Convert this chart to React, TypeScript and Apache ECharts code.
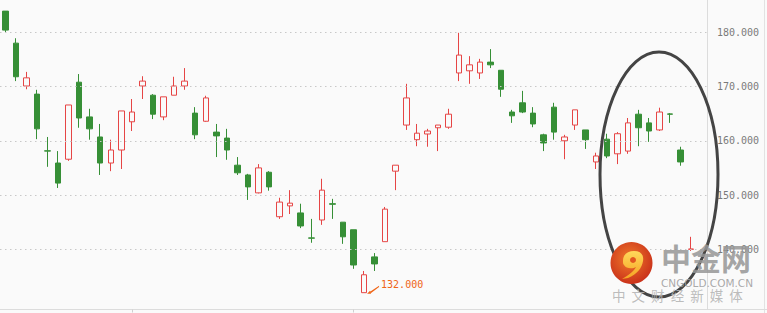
import React, { useEffect, useRef } from "react";
import * as echarts from "echarts";

// ---- data ----
const categories: string[] = Array.from({ length: 67 }, (_, i) => `D${i + 1}`);
const tickIndices: number[] = [12, 33];
const opens: (number | null)[] = [
  183.9, 178.0, 170.1, 168.6, 158.15, 155.9, 156.6, 170.8, 164.4, 160.7,
  155.9, 158.3, 163.5, 170.1, 168.4, 164.4, 168.4, 170.1, 165.1, 163.6,
  161.6, 160.5, 155.5, 153.7, 150.4, 154.2, 146.0, 148.0, 146.7, 142.1,
  145.4, 148.4, 145.0, 143.6, 132.0, 138.6, 141.4, 154.4, 162.9, 160.2,
  161.25, 162.4, 162.5, 172.5, 172.9, 172.5, 174.5, 173.0, 165.3, 167.0,
  165.1, 161.1, 166.2, 160.0, 162.9, 162.0, 156.1, 160.3, 157.6, 158.1,
  164.9, 163.3, 162.0, 164.95, 158.3, 140.0, null,
];
const closes: (number | null)[] = [
  180.4, 171.8, 171.6, 162.2, 158.1, 152.2, 166.6, 164.2, 162.2, 155.9,
  158.3, 165.5, 165.3, 171.0, 164.9, 168.1, 170.1, 171.0, 161.1, 167.9,
  160.9, 158.3, 154.1, 151.5, 155.0, 151.5, 148.7, 148.5, 144.3, 142.05,
  150.9, 148.3, 142.3, 137.1, 135.3, 137.3, 147.4, 155.5, 167.9, 161.4,
  161.8, 162.9, 164.9, 175.8, 174.0, 174.5, 174.0, 169.5, 164.6, 165.3,
  163.1, 159.6, 161.6, 160.7, 165.7, 160.2, 157.2, 157.2, 161.3, 163.3,
  162.4, 161.8, 165.3, 164.9, 156.1, 140.05, null,
];
const lows: (number | null)[] = [
  179.9, 171.0, 169.5, 160.3, 155.2, 151.3, 156.3, 162.4, 160.2, 153.7,
  154.4, 154.8, 161.8, 167.7, 164.0, 163.8, 168.4, 169.4, 160.3, 163.5,
  157.0, 156.5, 153.7, 149.1, 150.3, 150.8, 145.6, 146.5, 143.9, 141.2,
  144.5, 145.6, 141.0, 136.4, 132.0, 136.0, 141.4, 150.9, 162.0, 159.0,
  158.9, 158.1, 162.2, 171.0, 170.5, 171.4, 173.4, 168.1, 163.3, 165.1,
  162.5, 158.1, 160.2, 156.6, 162.0, 158.5, 154.8, 156.8, 155.7, 157.6,
  159.0, 159.8, 161.8, 163.3, 155.4, 139.7, null,
];
const highs: (number | null)[] = [
  183.9, 178.9, 172.7, 169.4, 160.7, 158.1, 166.6, 172.3, 165.9, 163.1,
  160.2, 165.5, 167.7, 171.9, 168.6, 168.1, 171.8, 173.4, 166.2, 168.3,
  163.1, 162.2, 157.0, 153.9, 155.7, 154.4, 149.5, 150.9, 148.4, 145.6,
  153.0, 149.3, 145.0, 143.6, 136.0, 139.3, 147.8, 155.5, 170.5, 163.1,
  162.2, 162.9, 165.9, 179.9, 175.6, 175.1, 176.9, 173.0, 165.7, 169.2,
  166.2, 161.3, 167.0, 161.1, 165.7, 162.0, 157.8, 161.3, 161.6, 164.2,
  165.7, 164.2, 166.1, 165.1, 158.9, 142.3, null,
];
const gridValues: number[] = [140, 150, 160, 170, 180];
const axisMin = 128.9;
const axisMax = 185.95;

// ---- styles ----
const RED = "#e64545";
const GREEN = "#368f36";
const BG = "#fafafa";

const swirlPath =
  "M9,14 C9,7 14,4 20,4 C27,4 30,8 29,14 C28,21 23,27 14,31 L8,32 C15,28 20,24 22,20 C19,22 12,22 10,18 C9,17 9,16 9,14 Z";
let registered = false;
function registerShapes() {
  if (registered) return;
  registered = true;
  echarts.graphic.registerShape("cgSwirl", echarts.graphic.extendPath(swirlPath, {}) as any);
}

export default function App() {
  const ref = useRef<HTMLDivElement>(null);
  useEffect(() => {
    if (!ref.current) return;
    registerShapes();
    const chart = echarts.init(ref.current, null, { renderer: "svg" });
    const data = opens.map((o, i) =>
      o == null ? "-" : [o, closes[i], lows[i], highs[i]]
    );
    chart.setOption({
      animation: false,
      backgroundColor: BG,
      grid: { left: -4, right: 60, top: 0, bottom: 3.5 },
      xAxis: {
        type: "category",
        data: categories,
        boundaryGap: true,
        axisLine: { show: true, lineStyle: { color: "#dcdcdc", width: 1 } },
        axisTick: {
          show: true,
          alignWithLabel: true,
          length: 3,
          interval: (index: number) => tickIndices.includes(index),
          lineStyle: { color: "#d0d0d0" },
        },
        axisLabel: { show: false },
        splitLine: { show: false },
      },
      yAxis: {
        type: "value",
        position: "right",
        scale: true,
        min: axisMin,
        max: axisMax,
        axisLine: { show: true, lineStyle: { color: "#dcdcdc", width: 1 } },
        axisTick: { show: false },
        splitLine: { show: false },
        axisLabel: {
          margin: 10,
          color: "#7a7a7a",
          fontSize: 10,
          fontFamily: "DejaVu Sans Mono",
          formatter: (v: number) =>
            gridValues.some((g) => Math.abs(g - v) < 1e-6) ? v.toFixed(3) : "",
        },
      },
      series: [
        {
          type: "candlestick",
          data,
          barWidth: 6,
          itemStyle: {
            color: BG,
            color0: GREEN,
            borderColor: RED,
            borderColor0: GREEN,
            borderWidth: 1,
          },
          emphasis: { disabled: true },
          markLine: {
            silent: true,
            symbol: ["none", "none"],
            label: { show: false },
            lineStyle: { color: "#c8c8c8", type: [1.5, 3.5], width: 1 },
            emphasis: { disabled: true },
            data: gridValues.map((v) => ({ yAxis: v })),
          },
          markPoint: {
            silent: true,
            symbol:
              "path://M0,8 L3,5 L4,8 Z M3,6 L12,0 L12,1.3 L4,7.3 Z",
            symbolSize: [12, 8],
            symbolOffset: [9, -3],
            itemStyle: { color: "#ef6416" },
            label: {
              show: true,
              position: "right",
              distance: 2,
              offset: [0, -5],
              color: "#ef6416",
              fontSize: 10,
              fontFamily: "DejaVu Sans Mono",
              formatter: (p: any) => Number(p.value).toFixed(3),
            },
            data: [{ type: "min", valueDim: "lowest", name: "min" }],
          },
        },
      ],
      graphic: [
        // frame
        {
          type: "line",
          silent: true,
          shape: { x1: 764.5, y1: 0, x2: 764.5, y2: 313 },
          style: { stroke: "#e2e2e2", lineWidth: 1 },
        },
        {
          type: "line",
          silent: true,
          shape: { x1: 707, y1: 309.5, x2: 767, y2: 309.5 },
          style: { stroke: "#dcdcdc", lineWidth: 1 },
        },
        // annotation ellipse
        {
          type: "ellipse",
          silent: true,
          z: 50,
          shape: { cx: 659, cy: 174.5, rx: 59, ry: 122.5 },
          style: { fill: "none", stroke: "#444444", lineWidth: 3 },
        },
        // watermark
        {
          type: "circle",
          silent: true,
          z: 60,
          shape: { cx: 631.5, cy: 263, r: 21 },
          style: {
            fill: new echarts.graphic.RadialGradient(0.45, 0.4, 0.7, [
              { offset: 0, color: "#f07a2a" },
              { offset: 1, color: "#c42618" },
            ]),
          },
        },
        {
          type: "cgSwirl",
          silent: true,
          z: 61,
          x: 614,
          y: 247,
          style: {
            fill: new echarts.graphic.LinearGradient(0, 0, 0, 1, [
              { offset: 0, color: "#ffd85a" },
              { offset: 1, color: "#f5a323" },
            ]),
          },
        },
        {
          type: "circle",
          silent: true,
          z: 62,
          shape: { cx: 633, cy: 260, r: 3 },
          style: { fill: "#e2561f" },
        },
        {
          type: "text",
          silent: true,
          z: 60,
          x: 661,
          y: 242,
          style: {
            text: "中金网",
            fill: "rgba(150,150,150,0.85)",
            font: "bold 30px 'Noto Sans CJK SC'",
          },
        },
        {
          type: "text",
          silent: true,
          z: 60,
          x: 661,
          y: 277,
          style: {
            text: "CNGOLD.COM.CN",
            fill: "rgba(160,160,160,0.9)",
            font: "10.5px 'DejaVu Sans'",
          },
        },
        {
          type: "text",
          silent: true,
          z: 60,
          x: 612,
          y: 288,
          style: {
            text: "中  文  财  经  新  媒  体",
            fill: "rgba(180,180,180,0.9)",
            font: "13.5px 'Noto Sans CJK SC'",
          },
        },
      ],
    });
    return () => chart.dispose();
  }, []);
  return (
    <div
      ref={ref}
      style={{ position: "fixed", left: 0, top: 0, width: 767, height: 313 }}
    />
  );
}
